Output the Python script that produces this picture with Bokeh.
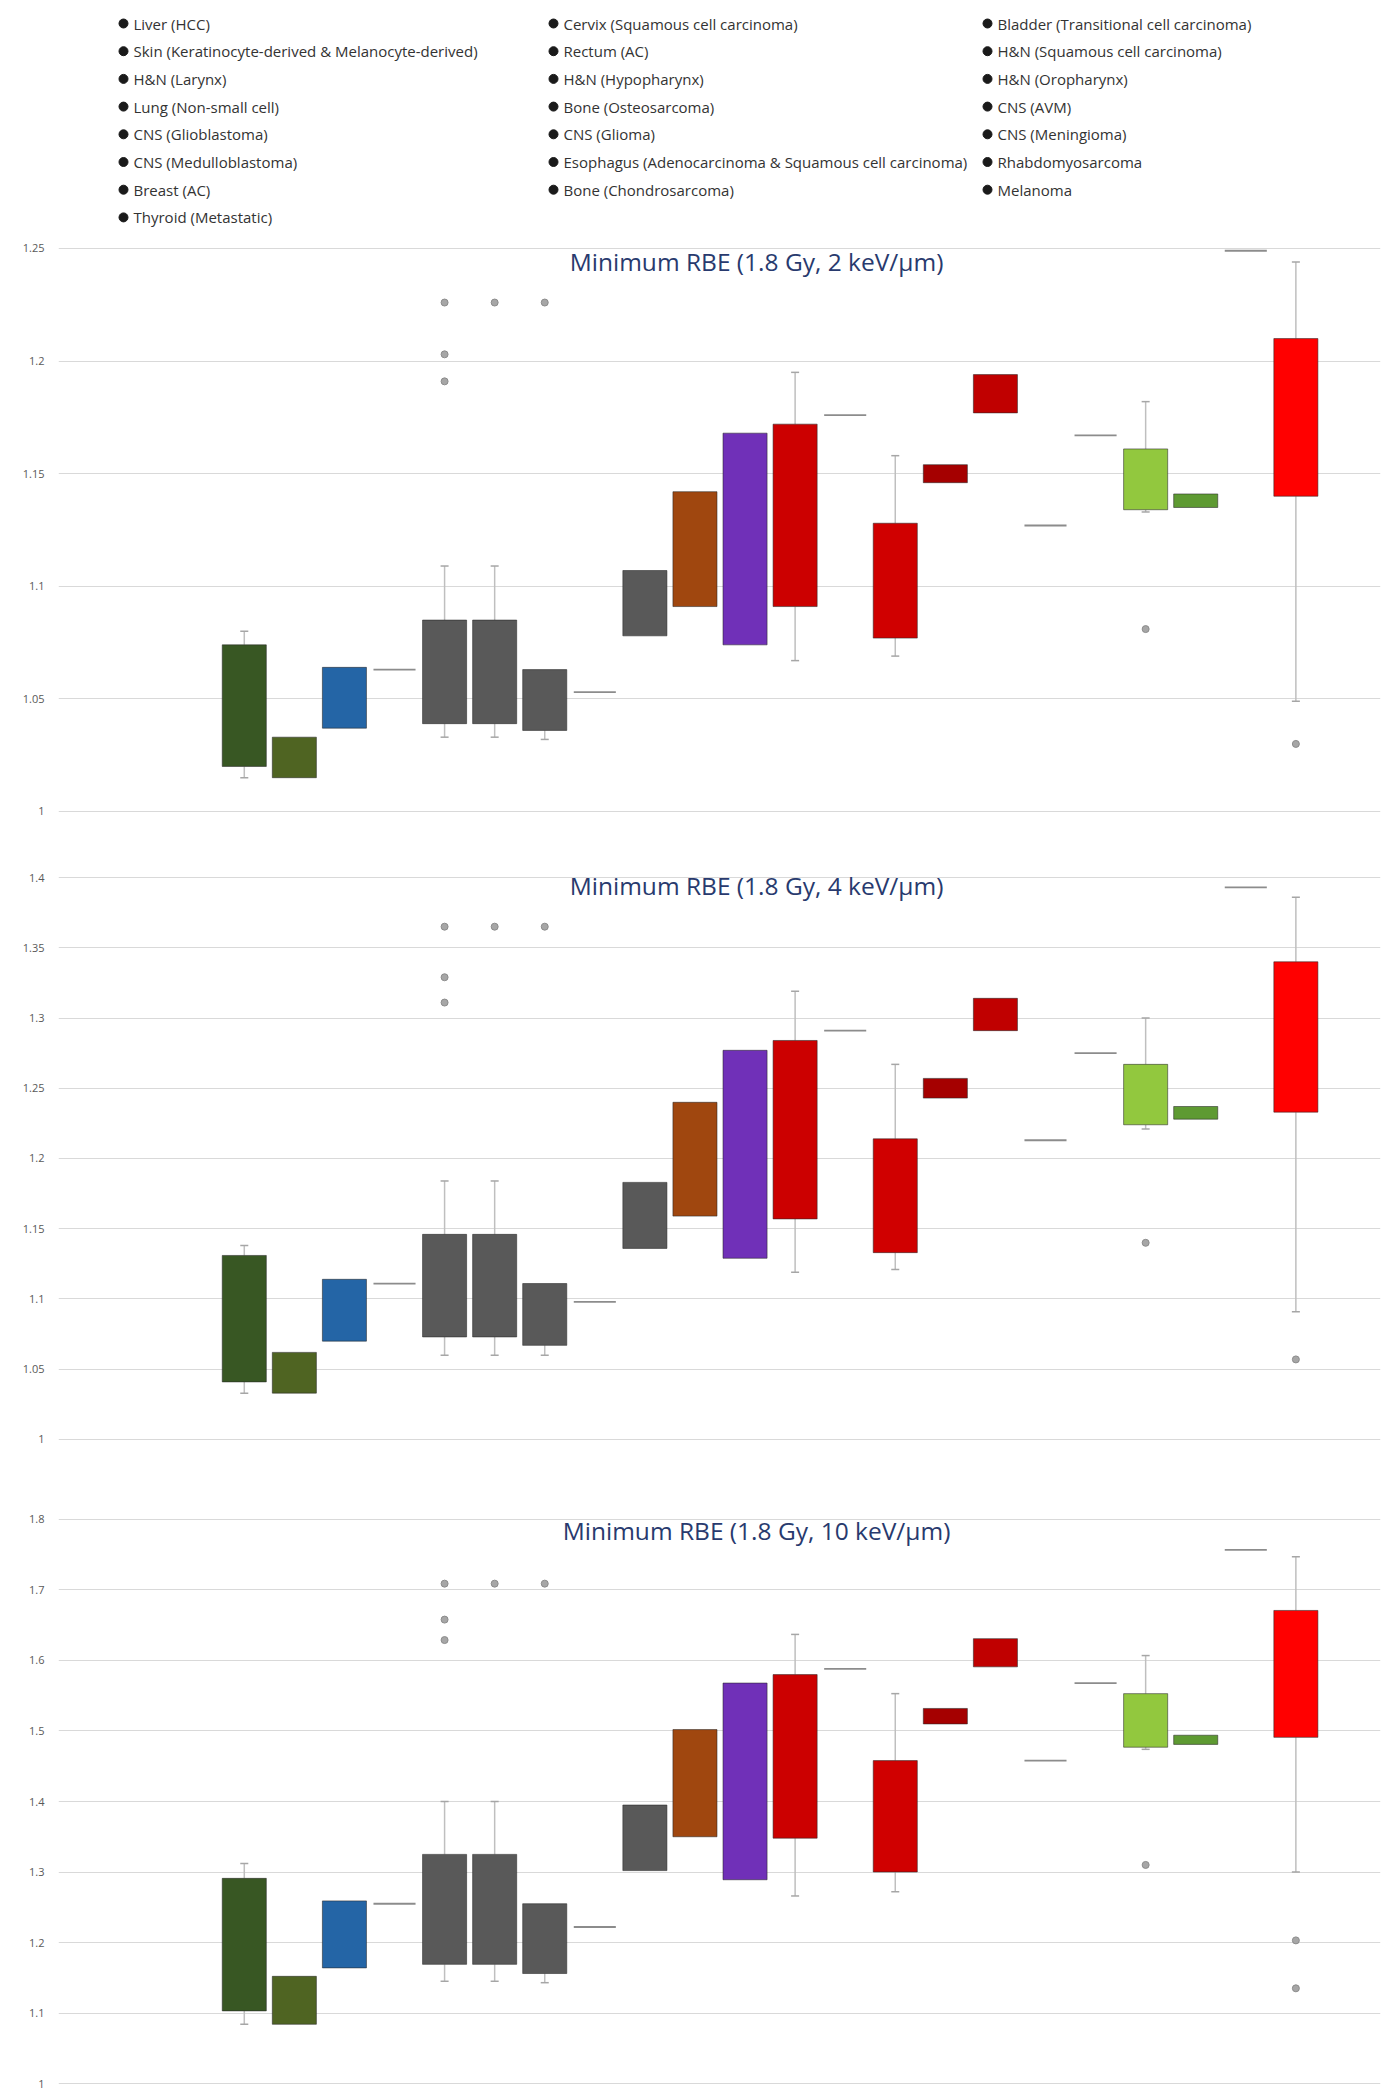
import math
from bokeh.plotting import figure
from bokeh.layouts import column
from bokeh.models import Range1d, Label, FixedTicker
from bokeh.embed import file_html
from bokeh.resources import INLINE
from bokeh.core.properties import value

nan = float("nan")

# ---------------- categories (legend order, row-major) ----------------
categories = [
    "Liver (HCC)", "Cervix (Squamous cell carcinoma)", "Bladder (Transitional cell carcinoma)",
    "Skin (Keratinocyte-derived & Melanocyte-derived)", "Rectum (AC)", "H&N (Squamous cell carcinoma)",
    "H&N (Larynx)", "H&N (Hypopharynx)", "H&N (Oropharynx)",
    "Lung (Non-small cell)", "Bone (Osteosarcoma)", "CNS (AVM)",
    "CNS (Glioblastoma)", "CNS (Glioma)", "CNS (Meningioma)",
    "CNS (Medulloblastoma)", "Esophagus (Adenocarcinoma & Squamous cell carcinoma)", "Rhabdomyosarcoma",
    "Breast (AC)", "Bone (Chondrosarcoma)", "Melanoma",
    "Thyroid (Metastatic)",
]
colors = [
    "#385723", "#4F6422", "#2465A6", "#7F7F7F", "#595959", "#595959",
    "#595959", "#7F7F7F", "#595959", "#A0470F", "#7030B8", "#CC0000",
    "#7F7F7F", "#D00000", "#A50000", "#C00000", "#7F7F7F", "#7F7F7F",
    "#92C83E", "#5E9A32", "#7F7F7F", "#FF0000",
]

# ---------------- Panel 1: 1.8 Gy, 2 keV/um ----------------
title_let2 = "Minimum RBE (1.8 Gy, 2 keV/μm)"
ticks_let2 = [1.0, 1.05, 1.1, 1.15, 1.2, 1.25]
tick_labels_let2 = ["1", "1.05", "1.1", "1.15", "1.2", "1.25"]
q3_let2 = [1.074, 1.033, 1.064, 1.063, 1.085, 1.085, 1.063, 1.053, 1.107, 1.142, 1.168,
           1.172, 1.176, 1.128, 1.154, 1.194, 1.127, 1.167, 1.161, 1.141, 1.249, 1.210]
q1_let2 = [1.020, 1.015, 1.037, 1.063, 1.039, 1.039, 1.036, 1.053, 1.078, 1.091, 1.074,
           1.091, 1.176, 1.077, 1.146, 1.177, 1.127, 1.167, 1.134, 1.135, 1.249, 1.140]
whi_let2 = [1.080, nan, nan, nan, 1.109, 1.109, nan, nan, nan, nan, nan,
            1.195, nan, 1.158, nan, nan, nan, nan, 1.182, nan, nan, 1.244]
wlo_let2 = [1.015, nan, nan, nan, 1.033, 1.033, 1.032, nan, nan, nan, nan,
            1.067, nan, 1.069, nan, nan, nan, nan, 1.133, nan, nan, 1.049]
out_cat_let2 = [4, 4, 4, 5, 6, 18, 21]
out_val_let2 = [1.226, 1.203, 1.191, 1.226, 1.226, 1.081, 1.030]

# ---------------- Panel 2: 1.8 Gy, 4 keV/um ----------------
title_let4 = "Minimum RBE (1.8 Gy, 4 keV/μm)"
ticks_let4 = [1.0, 1.05, 1.1, 1.15, 1.2, 1.25, 1.3, 1.35, 1.4]
tick_labels_let4 = ["1", "1.05", "1.1", "1.15", "1.2", "1.25", "1.3", "1.35", "1.4"]
q3_let4 = [1.131, 1.062, 1.114, 1.111, 1.146, 1.146, 1.111, 1.098, 1.183, 1.240, 1.277,
           1.284, 1.291, 1.214, 1.257, 1.314, 1.213, 1.275, 1.267, 1.237, 1.393, 1.340]
q1_let4 = [1.041, 1.033, 1.070, 1.111, 1.073, 1.073, 1.067, 1.098, 1.136, 1.159, 1.129,
           1.157, 1.291, 1.133, 1.243, 1.291, 1.213, 1.275, 1.224, 1.228, 1.393, 1.233]
whi_let4 = [1.138, nan, nan, nan, 1.184, 1.184, nan, nan, nan, nan, nan,
            1.319, nan, 1.267, nan, nan, nan, nan, 1.300, nan, nan, 1.386]
wlo_let4 = [1.033, nan, nan, nan, 1.060, 1.060, 1.060, nan, nan, nan, nan,
            1.119, nan, 1.121, nan, nan, nan, nan, 1.221, nan, nan, 1.091]
out_cat_let4 = [4, 4, 4, 5, 6, 18, 21]
out_val_let4 = [1.365, 1.329, 1.311, 1.365, 1.365, 1.140, 1.057]

# ---------------- Panel 3: 1.8 Gy, 10 keV/um ----------------
title_let10 = "Minimum RBE (1.8 Gy, 10 keV/μm)"
ticks_let10 = [1.0, 1.1, 1.2, 1.3, 1.4, 1.5, 1.6, 1.7, 1.8]
tick_labels_let10 = ["1", "1.1", "1.2", "1.3", "1.4", "1.5", "1.6", "1.7", "1.8"]
q3_let10 = [1.291, 1.152, 1.259, 1.255, 1.325, 1.325, 1.255, 1.222, 1.395, 1.502, 1.568,
            1.580, 1.588, 1.458, 1.532, 1.631, 1.458, 1.568, 1.553, 1.494, 1.757, 1.671]
q1_let10 = [1.103, 1.084, 1.164, 1.255, 1.169, 1.169, 1.156, 1.222, 1.302, 1.350, 1.289,
            1.348, 1.588, 1.300, 1.510, 1.591, 1.458, 1.568, 1.477, 1.481, 1.757, 1.491]
whi_let10 = [1.312, nan, nan, nan, 1.400, 1.400, nan, nan, nan, nan, nan,
             1.637, nan, 1.553, nan, nan, nan, nan, 1.607, nan, nan, 1.747]
wlo_let10 = [1.084, nan, nan, nan, 1.145, 1.145, 1.143, nan, nan, nan, nan,
             1.266, nan, 1.272, nan, nan, nan, nan, 1.474, nan, nan, 1.300]
out_cat_let10 = [4, 4, 4, 5, 6, 18, 21, 21]
out_val_let10 = [1.709, 1.658, 1.629, 1.709, 1.709, 1.310, 1.203, 1.135]

FONT = "Open Sans"
W = 1387
BL, BR = 58, 7


def legend_fig():
    # the column layout aligns this frame with the panels' frames (x from BL to W-BR)
    p = figure(width=W, height=235, x_range=Range1d(BL, W - BR), y_range=Range1d(235, 0),
               toolbar_location=None, output_backend="svg",
               min_border_left=BL, min_border_right=BR, min_border_top=0, min_border_bottom=0,
               x_axis_location=None, y_axis_location=None)
    p.grid.visible = False
    p.outline_line_color = None
    col_x = [123, 553, 987]
    xs, ys = [], []
    for k in range(len(categories)):
        r, c = divmod(k, 3)
        xs.append(col_x[c])
        ys.append(23 + 27.7 * r)
    p.scatter(xs, ys, size=9, color="#1a1a1a")
    p.text([x + 10 for x in xs], ys, text=categories, text_baseline="middle",
           text_font=value(FONT), text_font_size="15px", text_color="#333333")
    return p


def panel(title, ticks, tick_labels, q1, q3, wlo, whi, out_cat, out_val,
          y0, y1, height, title_y):
    p = figure(width=W, height=height, x_range=Range1d(-3.71, 22.69), y_range=Range1d(y0, y1),
               toolbar_location=None, output_backend="svg", x_axis_location=None,
               min_border_left=BL, min_border_right=BR, min_border_top=5, min_border_bottom=5)
    p.outline_line_color = None
    p.xgrid.visible = False
    p.ygrid.grid_line_color = "#D9D9D9"
    p.ygrid.grid_line_width = 1
    ax = p.yaxis[0]
    ax.ticker = FixedTicker(ticks=ticks)
    ax.major_label_overrides = {t: s for t, s in zip(ticks, tick_labels)}
    ax.axis_line_color = None
    ax.major_tick_line_color = None
    ax.minor_tick_line_color = None
    ax.major_label_text_font = FONT
    ax.major_label_text_font_size = "11px"
    ax.major_label_text_color = "#595959"
    ax.major_label_standoff = 8

    idx = list(range(len(categories)))
    # whiskers
    wx, wya, wyb, cx0, cx1, cy = [], [], [], [], [], []
    for i in idx:
        if not math.isnan(whi[i]):
            wx.append(i); wya.append(q3[i]); wyb.append(whi[i])
            cx0.append(i - 0.08); cx1.append(i + 0.08); cy.append(whi[i])
        if not math.isnan(wlo[i]):
            wx.append(i); wya.append(q1[i]); wyb.append(wlo[i])
            cx0.append(i - 0.08); cx1.append(i + 0.08); cy.append(wlo[i])
    p.segment(x0=wx, y0=wya, x1=wx, y1=wyb, line_color="#BFBFBF", line_width=1.5)
    p.segment(x0=cx0, y0=cy, x1=cx1, y1=cy, line_color="#A6A6A6", line_width=1.5)

    # boxes
    bx, bt, bb, bc = [], [], [], []
    lx0, lx1, ly = [], [], []
    for i in idx:
        if abs(q3[i] - q1[i]) < 1e-9:
            lx0.append(i - 0.42); lx1.append(i + 0.42); ly.append(q1[i])
        else:
            bx.append(i); bt.append(q3[i]); bb.append(q1[i]); bc.append(colors[i])
    p.vbar(x=bx, top=bt, bottom=bb, width=0.88, fill_color=bc,
           line_color="#262626", line_alpha=0.55, line_width=1)
    p.segment(x0=lx0, y0=ly, x1=lx1, y1=ly, line_color="#8C8C8C", line_width=1.8)

    # outliers
    p.scatter(out_cat, out_val, size=7, fill_color="#A6A6A6", line_color="#8C8C8C")

    p.add_layout(Label(x=10.23, y=title_y, text=title, text_align="center",
                       text_baseline="middle", text_font=FONT, text_font_size="24.5px",
                       text_color="#283A6E"))
    return p


p0 = legend_fig()
p1 = panel(title_let2, ticks_let2, tick_labels_let2, q1_let2, q3_let2, wlo_let2, whi_let2,
           out_cat_let2, out_val_let2, 0.98712, 1.25355, 610, 1.2442)
p2 = panel(title_let4, ticks_let4, tick_labels_let4, q1_let4, q3_let4, wlo_let4, whi_let4,
           out_cat_let4, out_val_let4, 0.98505, 1.41922, 620, 1.3943)
p3 = panel(title_let10, ticks_let10, tick_labels_let10, q1_let10, q3_let10, wlo_let10, whi_let10,
           out_cat_let10, out_val_let10, 0.99433, 1.8695, 627, 1.784)

layout = column(p0, p1, p2, p3, spacing=0)
open("out.html", "w").write(file_html(layout, INLINE))
